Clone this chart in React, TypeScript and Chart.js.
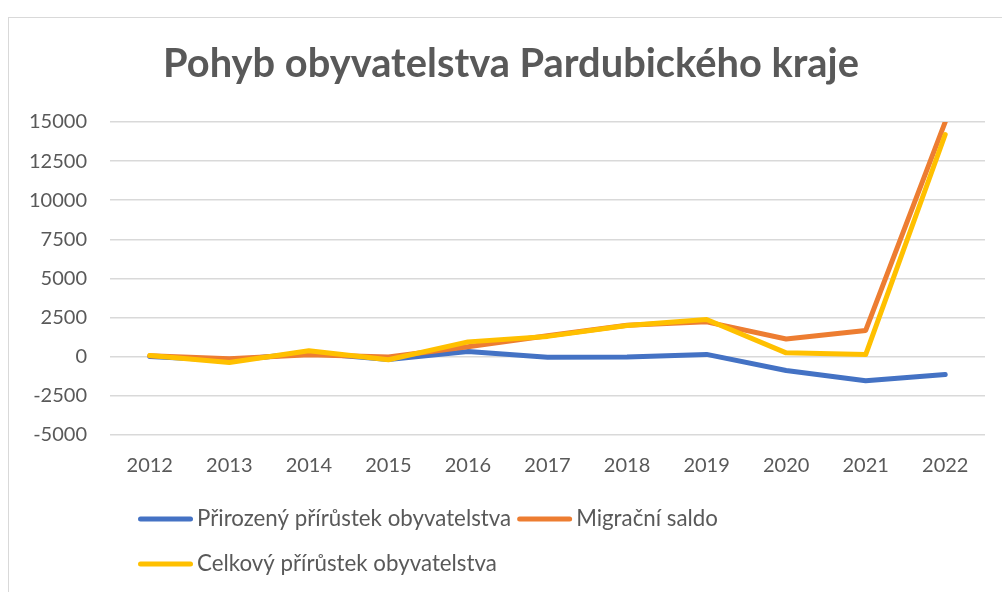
import React, { useEffect, useRef } from "react";
import { Chart, registerables } from "chart.js";

Chart.register(...registerables);

const years = ["2012", "2013", "2014", "2015", "2016", "2017", "2018", "2019", "2020", "2021", "2022"];
const prirozeny = [20, -240, 250, -170, 330, -40, -20, 150, -880, -1540, -1130];
const migracni = [60, -130, 130, -20, 640, 1340, 2010, 2230, 1130, 1680, 15000];
const celkovy = [80, -370, 380, -190, 950, 1300, 1990, 2380, 250, 140, 14200];
const seriesNames = ["Přirozený přírůstek obyvatelstva", "Migrační saldo", "Celkový přírůstek obyvatelstva"];
const seriesColors = ["#4472C4", "#ED7D31", "#FFC000"];
const titleText = "Pohyb obyvatelstva Pardubického kraje";

const FONT = "Lato, 'Open Sans', sans-serif";
const TEXT = "#595959";

const legendPlugin = {
  id: "customLegend",
  afterDraw(chart: any) {
    const ctx = chart.ctx;
    const ds = chart.data.datasets;
    ctx.save();
    ctx.font = `22.3px ${FONT}`;
    ctx.textBaseline = "middle";
    ctx.textAlign = "left";
    let x = 138;
    let y = 519;
    const startX = 138;
    const rowGap = 45;
    const lineLen = 55;
    const textGap = 4;
    const itemGap = 6;
    const limit = 960;
    for (let i = 0; i < ds.length; i++) {
      const w = ctx.measureText(ds[i].label).width;
      const itemW = lineLen + textGap + w;
      if (x !== startX && x + itemW > limit) {
        x = startX;
        y += rowGap;
      }
      ctx.strokeStyle = ds[i].borderColor;
      ctx.lineWidth = 5;
      ctx.lineCap = "round";
      ctx.beginPath();
      ctx.moveTo(x + 2.5, y);
      ctx.lineTo(x + lineLen - 2.5, y);
      ctx.stroke();
      ctx.fillStyle = TEXT;
      ctx.fillText(ds[i].label, x + lineLen + textGap, y);
      x += itemW + itemGap;
    }
    ctx.restore();
  },
};

export default function App() {
  const ref = useRef<HTMLCanvasElement | null>(null);
  useEffect(() => {
    if (!ref.current) return;
    const values = [prirozeny, migracni, celkovy];
    const chart = new Chart(ref.current, {
      type: "line",
      data: {
        labels: years,
        datasets: values.map((v, i) => ({
          label: seriesNames[i],
          data: v,
          borderColor: seriesColors[i],
          backgroundColor: seriesColors[i],
          borderWidth: 5,
          pointRadius: 0,
          pointHoverRadius: 0,
          tension: 0,
          borderCapStyle: "round" as const,
          borderJoinStyle: "round" as const,
          order: 3 - i,
          yAxisID: "y",
        })),
      },
      options: {
        animation: false,
        responsive: false,
        maintainAspectRatio: false,
        layout: { padding: { left: 27, right: 7, top: 0, bottom: 107 } },
        plugins: {
          legend: { display: false },
          tooltip: { enabled: false },
          title: {
            display: true,
            text: titleText,
            color: TEXT,
            font: { family: FONT, size: 39.8, weight: "bold", lineHeight: 1.2 },
            padding: { top: 40, bottom: 34.2 },
          },
        },
        scales: {
          x: {
            offset: true,
            grid: { display: false, drawTicks: false },
            border: { display: false },
            ticks: { color: TEXT, font: { family: FONT, size: 20 }, padding: 19, maxRotation: 0 },
            afterFit: (axis: any) => {
              axis.height = 50;
            },
          },
          y: {
            position: "left",
            min: -5000,
            max: 15000,
            grid: { color: "#d9d9d9", lineWidth: 1.5, drawTicks: false },
            border: { display: false },
            ticks: {
              stepSize: 2500,
              color: TEXT,
              font: { family: FONT, size: 20 },
              padding: 23,
              callback: (v: any) => String(v),
            },
            afterFit: (axis: any) => {
              axis.width = 83;
            },
          },
          y2: {
            type: "linear",
            position: "right",
            display: true,
            grid: { display: false, drawTicks: false },
            border: { display: false },
            ticks: { display: false },
            afterFit: (axis: any) => {
              axis.width = 10;
            },
          },
        },
      },
      plugins: [legendPlugin],
    });
    return () => chart.destroy();
  }, []);
  return (
    <div style={{ position: "fixed", left: 0, top: 0, width: 1002, height: 592, overflow: "hidden", background: "#fff" }}>
      <div
        style={{
          position: "absolute",
          left: 8,
          top: 17,
          width: 1100,
          height: 700,
          border: "1px solid #d9d9d9",
          boxSizing: "border-box",
        }}
      />
      <canvas ref={ref} width={1002} height={592} style={{ position: "absolute", left: 0, top: 0, display: "block" }} />
    </div>
  );
}
